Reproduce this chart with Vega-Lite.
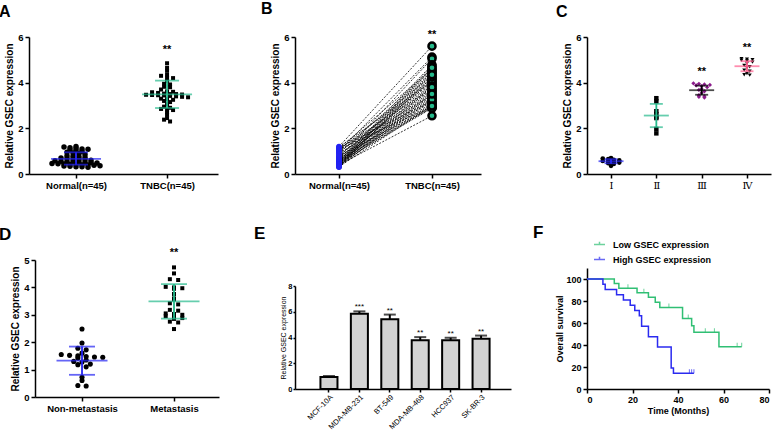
{
"$schema": "https://vega.github.io/schema/vega-lite/v6.json",
"background": "white",
"padding": {"left": -1, "top": 1, "right": 5, "bottom": 0},
"columns": 3,
"align": "none",
"bounds": "flush",
"spacing": {"column": 69, "row": 86},
"resolve": {"scale": {"color": "independent", "fill": "independent", "shape": "independent", "size": "independent"}, "legend": {"color": "independent"}},
"config": {
 "font": "Liberation Sans",
 "view": {"stroke": null},
 "axis": {"grid": false, "labelOverlap": false, "domainColor": "black", "domainWidth": 1.5, "tickColor": "black", "tickWidth": 1.5, "tickSize": 4, "labelColor": "black", "titleColor": "black", "labelFont": "Liberation Sans", "titleFont": "Liberation Sans", "labelFontWeight": "bold", "titleFontWeight": "bold", "labelFontSize": 9.5, "titleFontSize": 10, "labelPadding": 2, "titlePadding": 3},
 "title": {"anchor": "start", "frame": "group", "fontSize": 16, "fontWeight": "bold", "font": "Liberation Sans", "color": "black", "baseline": "alphabetic", "offset": 12},
 "text": {"font": "Liberation Sans", "color": "black"}
},
"concat": [
{
 "width": 189, "height": 137,
 "title": {"text": "A", "dx": -30},
 "data": {"values": [
  {"g":"Normal(n=45)","v":1.2},{"g":"Normal(n=45)","v":1.18},{"g":"Normal(n=45)","v":1.15},{"g":"Normal(n=45)","v":1.12},{"g":"Normal(n=45)","v":1.1},{"g":"Normal(n=45)","v":1.08},{"g":"Normal(n=45)","v":1.05},{"g":"Normal(n=45)","v":1.02},{"g":"Normal(n=45)","v":1.0},{"g":"Normal(n=45)","v":0.95},
  {"g":"Normal(n=45)","v":0.92},{"g":"Normal(n=45)","v":0.9},{"g":"Normal(n=45)","v":0.85},{"g":"Normal(n=45)","v":0.8},{"g":"Normal(n=45)","v":0.78},{"g":"Normal(n=45)","v":0.75},{"g":"Normal(n=45)","v":0.72},{"g":"Normal(n=45)","v":0.7},{"g":"Normal(n=45)","v":0.68},{"g":"Normal(n=45)","v":0.66},
  {"g":"Normal(n=45)","v":0.64},{"g":"Normal(n=45)","v":0.62},{"g":"Normal(n=45)","v":0.6},{"g":"Normal(n=45)","v":0.58},{"g":"Normal(n=45)","v":0.56},{"g":"Normal(n=45)","v":0.55},{"g":"Normal(n=45)","v":0.54},{"g":"Normal(n=45)","v":0.52},{"g":"Normal(n=45)","v":0.5},{"g":"Normal(n=45)","v":0.5},
  {"g":"Normal(n=45)","v":0.48},{"g":"Normal(n=45)","v":0.46},{"g":"Normal(n=45)","v":0.45},{"g":"Normal(n=45)","v":0.44},{"g":"Normal(n=45)","v":0.42},{"g":"Normal(n=45)","v":0.42},{"g":"Normal(n=45)","v":0.4},{"g":"Normal(n=45)","v":0.4},{"g":"Normal(n=45)","v":0.38},{"g":"Normal(n=45)","v":0.36},
  {"g":"Normal(n=45)","v":0.35},{"g":"Normal(n=45)","v":0.34},{"g":"Normal(n=45)","v":0.32},{"g":"Normal(n=45)","v":0.32},{"g":"Normal(n=45)","v":0.3},
  {"g":"TNBC(n=45)","v":4.85},{"g":"TNBC(n=45)","v":4.65},{"g":"TNBC(n=45)","v":4.52},{"g":"TNBC(n=45)","v":4.35},{"g":"TNBC(n=45)","v":4.3},{"g":"TNBC(n=45)","v":4.22},{"g":"TNBC(n=45)","v":4.2},{"g":"TNBC(n=45)","v":4.08},{"g":"TNBC(n=45)","v":3.95},{"g":"TNBC(n=45)","v":3.92},
  {"g":"TNBC(n=45)","v":3.82},{"g":"TNBC(n=45)","v":3.8},{"g":"TNBC(n=45)","v":3.7},{"g":"TNBC(n=45)","v":3.62},{"g":"TNBC(n=45)","v":3.6},{"g":"TNBC(n=45)","v":3.58},{"g":"TNBC(n=45)","v":3.55},{"g":"TNBC(n=45)","v":3.52},{"g":"TNBC(n=45)","v":3.5},{"g":"TNBC(n=45)","v":3.5},
  {"g":"TNBC(n=45)","v":3.48},{"g":"TNBC(n=45)","v":3.47},{"g":"TNBC(n=45)","v":3.46},{"g":"TNBC(n=45)","v":3.45},{"g":"TNBC(n=45)","v":3.44},{"g":"TNBC(n=45)","v":3.42},{"g":"TNBC(n=45)","v":3.4},{"g":"TNBC(n=45)","v":3.38},{"g":"TNBC(n=45)","v":3.36},{"g":"TNBC(n=45)","v":3.3},
  {"g":"TNBC(n=45)","v":3.28},{"g":"TNBC(n=45)","v":3.25},{"g":"TNBC(n=45)","v":3.2},{"g":"TNBC(n=45)","v":3.15},{"g":"TNBC(n=45)","v":3.05},{"g":"TNBC(n=45)","v":2.95},{"g":"TNBC(n=45)","v":2.9},{"g":"TNBC(n=45)","v":2.85},{"g":"TNBC(n=45)","v":2.82},{"g":"TNBC(n=45)","v":2.8},
  {"g":"TNBC(n=45)","v":2.7},{"g":"TNBC(n=45)","v":2.6},{"g":"TNBC(n=45)","v":2.45},{"g":"TNBC(n=45)","v":2.38},{"g":"TNBC(n=45)","v":2.3}
 ]},
 "encoding": {
  "x": {"field": "g", "type": "nominal", "scale": {"type": "point", "domain": ["Normal(n=45)", "TNBC(n=45)"], "padding": 0.538, "align": 0.48}, "axis": {"title": null, "labelAngle": 0}},
  "y": {"field": "v", "type": "quantitative", "scale": {"domain": [0, 6]}, "axis": {"values": [0, 2, 4, 6], "tickCount": 12, "format": "d", "title": "Relative GSEC expression"}}
 },
 "layer": [
  {"transform": [
    {"bin": {"step": 0.12}, "field": "v", "as": "vb"},
    {"window": [{"op": "row_number", "as": "k"}, {"op": "count", "as": "n"}], "groupby": ["g", "vb"], "sort": [{"field": "v", "order": "descending"}], "frame": [null, null]},
    {"calculate": "(datum.k - (datum.n + 1) / 2) * 6", "as": "off"}],
   "mark": {"type": "point", "filled": true, "opacity": 1, "color": "black"},
   "encoding": {
    "xOffset": {"field": "off", "type": "quantitative", "scale": null},
    "shape": {"field": "g", "type": "nominal", "scale": {"domain": ["Normal(n=45)", "TNBC(n=45)"], "range": ["circle", "square"]}, "legend": null},
    "size": {"field": "g", "type": "nominal", "scale": {"domain": ["Normal(n=45)", "TNBC(n=45)"], "range": [30, 16]}, "legend": null}
   }},
  {"data": {"values": [{"g":"Normal(n=45)","mean":0.66,"lo":0.41,"hi":0.95},{"g":"TNBC(n=45)","mean":3.49,"lo":2.89,"hi":4.09}]},
   "layer": [
    {"mark": {"type": "rule", "strokeWidth": 1.8}, "encoding": {"y": {"field": "lo", "type": "quantitative"}, "y2": {"field": "hi"}, "color": {"field": "g", "type": "nominal", "scale": {"domain": ["Normal(n=45)", "TNBC(n=45)"], "range": ["#2323f2", "#25b98b"]}, "legend": null}}},
    {"mark": {"type": "tick", "orient": "horizontal", "size": 50, "thickness": 1.8}, "encoding": {"y": {"field": "mean", "type": "quantitative"}, "color": {"field": "g", "type": "nominal", "legend": null}}},
    {"mark": {"type": "tick", "orient": "horizontal", "size": 24, "thickness": 1.8}, "encoding": {"y": {"field": "lo", "type": "quantitative"}, "color": {"field": "g", "type": "nominal", "legend": null}}},
    {"mark": {"type": "tick", "orient": "horizontal", "size": 24, "thickness": 1.8}, "encoding": {"y": {"field": "hi", "type": "quantitative"}, "color": {"field": "g", "type": "nominal", "legend": null}}}
   ]},
  {"transform": [{"filter": "datum.g == 'TNBC(n=45)'"}, {"aggregate": [{"op": "max", "field": "v", "as": "vmax"}], "groupby": ["g"]}],
   "mark": {"type": "text", "text": "**", "dy": -10, "fontSize": 11, "fontWeight": "bold", "baseline": "alphabetic"},
   "encoding": {"y": {"field": "vmax", "type": "quantitative"}}}
 ]
},
{
 "width": 208, "height": 137,
 "title": {"text": "B", "dx": -34},
 "data": {"values": [
  {"p":0,"n":1.2,"t":5.6},{"p":1,"n":1.18,"t":4.05},{"p":2,"n":1.15,"t":3.2},{"p":3,"n":1.12,"t":4.6},{"p":4,"n":1.1,"t":3.75},{"p":5,"n":1.08,"t":2.95},{"p":6,"n":1.05,"t":4.3},{"p":7,"n":1.02,"t":3.45},{"p":8,"n":1.0,"t":5.12},{"p":9,"n":0.95,"t":4.0},
  {"p":10,"n":0.92,"t":3.15},{"p":11,"n":0.9,"t":4.55},{"p":12,"n":0.85,"t":3.7},{"p":13,"n":0.8,"t":2.92},{"p":14,"n":0.78,"t":4.2},{"p":15,"n":0.75,"t":3.4},{"p":16,"n":0.72,"t":5.05},{"p":17,"n":0.7,"t":3.95},{"p":18,"n":0.68,"t":3.1},{"p":19,"n":0.66,"t":4.5},
  {"p":20,"n":0.64,"t":3.65},{"p":21,"n":0.62,"t":2.9},{"p":22,"n":0.6,"t":4.15},{"p":23,"n":0.58,"t":3.35},{"p":24,"n":0.56,"t":4.78},{"p":25,"n":0.55,"t":3.9},{"p":26,"n":0.54,"t":3.05},{"p":27,"n":0.52,"t":4.45},{"p":28,"n":0.5,"t":3.6},{"p":29,"n":0.5,"t":2.88},
  {"p":30,"n":0.48,"t":4.1},{"p":31,"n":0.46,"t":3.3},{"p":32,"n":0.45,"t":4.72},{"p":33,"n":0.44,"t":3.85},{"p":34,"n":0.42,"t":3.0},{"p":35,"n":0.42,"t":4.4},{"p":36,"n":0.4,"t":3.55},{"p":37,"n":0.4,"t":2.55},{"p":38,"n":0.38,"t":4.25},{"p":39,"n":0.36,"t":3.25},
  {"p":40,"n":0.35,"t":4.65},{"p":41,"n":0.34,"t":3.8},{"p":42,"n":0.32,"t":2.98},{"p":43,"n":0.32,"t":4.35},{"p":44,"n":0.3,"t":3.5}
 ]},
 "transform": [{"fold": ["n", "t"], "as": ["g", "v"]}],
 "encoding": {
  "x": {"field": "g", "type": "nominal", "scale": {"type": "point", "domain": ["n", "t"], "range": [0, 186], "padding": 0.5, "align": 0.473}, "axis": {"title": null, "labelAngle": 0, "labelExpr": "datum.value == 'n' ? 'Normal(n=45)' : 'TNBC(n=45)'"}},
  "y": {"field": "v", "type": "quantitative", "scale": {"domain": [0, 6]}, "axis": {"values": [0, 2, 4, 6], "tickCount": 12, "format": "d", "title": "Relative GSEC expression"}}
 },
 "layer": [
  {"mark": {"type": "line", "color": "black", "strokeWidth": 0.8, "strokeDash": [2, 1.5]}, "encoding": {"detail": {"field": "p", "type": "nominal"}}},
  {"transform": [{"filter": "datum.g == 'n'"}], "mark": {"type": "circle", "color": "#2323f2", "size": 30, "opacity": 1}},
  {"transform": [{"filter": "datum.g == 't'"}], "mark": {"type": "circle", "fill": "#25b98b", "stroke": "black", "strokeWidth": 2.5, "size": 50, "opacity": 1}},
  {"transform": [{"filter": "datum.g == 't'"}, {"aggregate": [{"op": "max", "field": "v", "as": "vmax"}], "groupby": ["g"]}],
   "mark": {"type": "text", "text": "**", "dy": -8, "fontSize": 11, "fontWeight": "bold", "baseline": "alphabetic"},
   "encoding": {"y": {"field": "vmax", "type": "quantitative"}}}
 ]
},
{
 "width": 184, "height": 137,
 "title": {"text": "C", "dx": -31},
 "data": {"values": [
  {"g":"Ⅰ","v":0.7},{"g":"Ⅰ","v":0.68},{"g":"Ⅰ","v":0.65},{"g":"Ⅰ","v":0.62},{"g":"Ⅰ","v":0.6},{"g":"Ⅰ","v":0.57},{"g":"Ⅰ","v":0.55},{"g":"Ⅰ","v":0.52},{"g":"Ⅰ","v":0.5},{"g":"Ⅰ","v":0.47},{"g":"Ⅰ","v":0.44},{"g":"Ⅰ","v":0.36},
  {"g":"Ⅱ","v":3.32},{"g":"Ⅱ","v":3.18},{"g":"Ⅱ","v":2.75},{"g":"Ⅱ","v":2.62},{"g":"Ⅱ","v":2.5},{"g":"Ⅱ","v":2.45},{"g":"Ⅱ","v":1.97},{"g":"Ⅱ","v":1.78},
  {"g":"Ⅲ","v":3.97},{"g":"Ⅲ","v":3.95},{"g":"Ⅲ","v":3.92},{"g":"Ⅲ","v":3.9},{"g":"Ⅲ","v":3.88},{"g":"Ⅲ","v":3.85},{"g":"Ⅲ","v":3.8},{"g":"Ⅲ","v":3.72},{"g":"Ⅲ","v":3.68},{"g":"Ⅲ","v":3.62},{"g":"Ⅲ","v":3.55},{"g":"Ⅲ","v":3.45},{"g":"Ⅲ","v":3.4},{"g":"Ⅲ","v":3.38},{"g":"Ⅲ","v":3.35},
  {"g":"Ⅳ","v":5.05},{"g":"Ⅳ","v":5.03},{"g":"Ⅳ","v":5.0},{"g":"Ⅳ","v":4.98},{"g":"Ⅳ","v":4.95},{"g":"Ⅳ","v":4.9},{"g":"Ⅳ","v":4.85},{"g":"Ⅳ","v":4.75},{"g":"Ⅳ","v":4.7},{"g":"Ⅳ","v":4.65},{"g":"Ⅳ","v":4.55},{"g":"Ⅳ","v":4.5},{"g":"Ⅳ","v":4.4},{"g":"Ⅳ","v":4.35},{"g":"Ⅳ","v":4.33}
 ]},
 "encoding": {
  "x": {"field": "g", "type": "nominal", "scale": {"type": "point", "domain": ["Ⅰ", "Ⅱ", "Ⅲ", "Ⅳ"], "padding": 0.53, "align": 0.5}, "axis": {"title": null, "labelAngle": 0, "labelFont": "DejaVu Serif", "labelFontWeight": "normal", "labelFontSize": 10}},
  "y": {"field": "v", "type": "quantitative", "scale": {"domain": [0, 6]}, "axis": {"values": [0, 2, 4, 6], "tickCount": 12, "format": "d", "title": "Relative GSEC expression"}}
 },
 "layer": [
  {"transform": [
    {"bin": {"step": 0.1}, "field": "v", "as": "vb"},
    {"window": [{"op": "row_number", "as": "k"}, {"op": "count", "as": "n"}], "groupby": ["g", "vb"], "sort": [{"field": "v", "order": "descending"}], "frame": [null, null]},
    {"calculate": "(datum.k - (datum.n + 1) / 2) * 5.5", "as": "off"}],
   "mark": {"type": "point", "filled": true, "opacity": 1},
   "encoding": {
    "xOffset": {"field": "off", "type": "quantitative", "scale": null},
    "fill": {"field": "g", "type": "nominal", "scale": {"domain": ["Ⅰ", "Ⅱ", "Ⅲ", "Ⅳ"], "range": ["black", "black", "#8c1c8c", "black"]}, "legend": null},
    "shape": {"field": "g", "type": "nominal", "scale": {"domain": ["Ⅰ", "Ⅱ", "Ⅲ", "Ⅳ"], "range": ["circle", "square", "diamond", "triangle-down"]}, "legend": null},
    "size": {"field": "g", "type": "nominal", "scale": {"domain": ["Ⅰ", "Ⅱ", "Ⅲ", "Ⅳ"], "range": [22, 16, 40, 32]}, "legend": null}
   }},
  {"data": {"values": [{"g":"Ⅰ","mean":0.56,"lo":0.47,"hi":0.65},{"g":"Ⅱ","mean":2.56,"lo":2.05,"hi":3.07},{"g":"Ⅲ","mean":3.67,"lo":3.47,"hi":3.87},{"g":"Ⅳ","mean":4.72,"lo":4.5,"hi":4.94}]},
   "layer": [
    {"mark": {"type": "rule", "strokeWidth": 1.8}, "encoding": {"y": {"field": "lo", "type": "quantitative"}, "y2": {"field": "hi"}, "color": {"field": "g", "type": "nominal", "scale": {"domain": ["Ⅰ", "Ⅱ", "Ⅲ", "Ⅳ"], "range": ["#2323f2", "#25b98b", "black", "#ff5c8d"]}, "legend": null}}},
    {"mark": {"type": "tick", "orient": "horizontal", "size": 25, "thickness": 1.8}, "encoding": {"y": {"field": "mean", "type": "quantitative"}, "color": {"field": "g", "type": "nominal", "legend": null}}},
    {"mark": {"type": "tick", "orient": "horizontal", "size": 13, "thickness": 1.8}, "encoding": {"y": {"field": "lo", "type": "quantitative"}, "color": {"field": "g", "type": "nominal", "legend": null}}},
    {"mark": {"type": "tick", "orient": "horizontal", "size": 13, "thickness": 1.8}, "encoding": {"y": {"field": "hi", "type": "quantitative"}, "color": {"field": "g", "type": "nominal", "legend": null}}}
   ]},
  {"transform": [{"filter": "datum.g == 'Ⅲ' || datum.g == 'Ⅳ'"}, {"aggregate": [{"op": "max", "field": "v", "as": "vmax"}], "groupby": ["g"]}],
   "mark": {"type": "text", "text": "**", "dy": -8, "fontSize": 11, "fontWeight": "bold", "baseline": "alphabetic"},
   "encoding": {"y": {"field": "vmax", "type": "quantitative"}}}
 ]
},
{
 "width": 197, "height": 137,
 "title": {"text": "D", "dx": -30, "offset": 3, "fontSize": 17},
 "data": {"values": [
  {"g":"Non-metastasis","v":2.48},{"g":"Non-metastasis","v":1.97},{"g":"Non-metastasis","v":1.78},{"g":"Non-metastasis","v":1.72},{"g":"Non-metastasis","v":1.6},{"g":"Non-metastasis","v":1.55},{"g":"Non-metastasis","v":1.52},{"g":"Non-metastasis","v":1.5},{"g":"Non-metastasis","v":1.48},{"g":"Non-metastasis","v":1.46},{"g":"Non-metastasis","v":1.45},
  {"g":"Non-metastasis","v":1.42},{"g":"Non-metastasis","v":1.35},{"g":"Non-metastasis","v":1.3},{"g":"Non-metastasis","v":1.28},{"g":"Non-metastasis","v":1.2},{"g":"Non-metastasis","v":1.18},{"g":"Non-metastasis","v":1.1},{"g":"Non-metastasis","v":0.72},{"g":"Non-metastasis","v":0.6},{"g":"Non-metastasis","v":0.42},{"g":"Non-metastasis","v":0.4},
  {"g":"Metastasis","v":4.73},{"g":"Metastasis","v":4.51},{"g":"Metastasis","v":4.3},{"g":"Metastasis","v":4.27},{"g":"Metastasis","v":4.02},{"g":"Metastasis","v":4.0},{"g":"Metastasis","v":3.97},{"g":"Metastasis","v":3.95},{"g":"Metastasis","v":3.76},{"g":"Metastasis","v":3.6},{"g":"Metastasis","v":3.56},{"g":"Metastasis","v":3.42},
  {"g":"Metastasis","v":3.38},{"g":"Metastasis","v":3.18},{"g":"Metastasis","v":3.15},{"g":"Metastasis","v":3.05},{"g":"Metastasis","v":3.03},{"g":"Metastasis","v":3.0},{"g":"Metastasis","v":2.95},{"g":"Metastasis","v":2.92},{"g":"Metastasis","v":2.88},{"g":"Metastasis","v":2.85},{"g":"Metastasis","v":2.75},{"g":"Metastasis","v":2.72},{"g":"Metastasis","v":2.48}
 ]},
 "encoding": {
  "x": {"field": "g", "type": "nominal", "scale": {"type": "point", "domain": ["Non-metastasis", "Metastasis"], "range": [6, 190], "padding": 0.5, "align": 0.511}, "axis": {"title": null, "labelAngle": 0}},
  "y": {"field": "v", "type": "quantitative", "scale": {"domain": [0, 5]}, "axis": {"values": [0, 1, 2, 3, 4, 5], "tickCount": 12, "format": "d", "title": "Relative GSEC expression", "offset": -6}}
 },
 "layer": [
  {"transform": [
    {"bin": {"step": 0.12}, "field": "v", "as": "vb"},
    {"window": [{"op": "row_number", "as": "k"}, {"op": "count", "as": "n"}], "groupby": ["g", "vb"], "sort": [{"field": "v", "order": "descending"}], "frame": [null, null]},
    {"calculate": "(datum.k - (datum.n + 1) / 2) * 8.3", "as": "off"}],
   "mark": {"type": "point", "filled": true, "opacity": 1, "color": "black"},
   "encoding": {
    "xOffset": {"field": "off", "type": "quantitative", "scale": null},
    "shape": {"field": "g", "type": "nominal", "scale": {"domain": ["Non-metastasis", "Metastasis"], "range": ["circle", "square"]}, "legend": null},
    "size": {"field": "g", "type": "nominal", "scale": {"domain": ["Non-metastasis", "Metastasis"], "range": [26, 16]}, "legend": null}
   }},
  {"data": {"values": [{"g":"Non-metastasis","mean":1.33,"lo":0.81,"hi":1.84},{"g":"Metastasis","mean":3.49,"lo":2.86,"hi":4.12}]},
   "layer": [
    {"mark": {"type": "rule", "strokeWidth": 1.8}, "encoding": {"y": {"field": "lo", "type": "quantitative"}, "y2": {"field": "hi"}, "color": {"field": "g", "type": "nominal", "scale": {"domain": ["Non-metastasis", "Metastasis"], "range": ["#2323f2", "#25b98b"]}, "legend": null}}},
    {"mark": {"type": "tick", "orient": "horizontal", "size": 51, "thickness": 1.8}, "encoding": {"y": {"field": "mean", "type": "quantitative"}, "color": {"field": "g", "type": "nominal", "legend": null}}},
    {"mark": {"type": "tick", "orient": "horizontal", "size": 26, "thickness": 1.8}, "encoding": {"y": {"field": "lo", "type": "quantitative"}, "color": {"field": "g", "type": "nominal", "legend": null}}},
    {"mark": {"type": "tick", "orient": "horizontal", "size": 26, "thickness": 1.8}, "encoding": {"y": {"field": "hi", "type": "quantitative"}, "color": {"field": "g", "type": "nominal", "legend": null}}}
   ]},
  {"transform": [{"filter": "datum.g == 'Metastasis'"}, {"aggregate": [{"op": "max", "field": "v", "as": "vmax"}], "groupby": ["g"]}],
   "mark": {"type": "text", "text": "**", "dy": -11, "fontSize": 11, "fontWeight": "bold", "baseline": "alphabetic"},
   "encoding": {"y": {"field": "vmax", "type": "quantitative"}}}
 ]
},
{
 "width": 223, "height": 137,
 "title": {"text": "E", "dx": -41, "offset": 17, "fontSize": 17},
 "data": {"values": [
  {"c":"MCF-10A","v":0.93,"hi":1.01,"s":""},
  {"c":"MDA-MB-231","v":5.85,"hi":6.03,"s":"***"},
  {"c":"BT-549","v":5.42,"hi":5.78,"s":"**"},
  {"c":"MDA-MB-468","v":3.78,"hi":4.03,"s":"**"},
  {"c":"HCC937","v":3.78,"hi":3.98,"s":"**"},
  {"c":"SK-BR-3","v":3.9,"hi":4.15,"s":"**"}
 ]},
 "encoding": {
  "x": {"field": "c", "type": "nominal", "sort": null, "scale": {"type": "band", "range": [0, 216], "paddingInner": 0.44, "paddingOuter": 0.77, "align": 0.543}, "axis": {"title": null, "labelAngle": -45, "labelFontSize": 7.5, "labelFontWeight": "normal", "offset": -8, "tickSize": 3, "labelPadding": 1}}
 },
 "layer": [
  {"mark": {"type": "bar", "fill": "#d3d3d3", "stroke": "black", "strokeWidth": 2},
   "encoding": {"y": {"field": "v", "type": "quantitative", "scale": {"domain": [0, 8], "range": [129, 26]}, "axis": {"values": [0, 2, 4, 6, 8], "tickCount": 12, "format": "d", "labelOverlap": false, "title": "Relative GSEC expression", "titleFontSize": 7, "titleFontWeight": "normal", "labelFontSize": 7.5, "tickSize": 2, "labelPadding": 1, "titlePadding": 1}}}},
  {"mark": {"type": "rule", "strokeWidth": 2, "color": "black"}, "encoding": {"y": {"field": "v", "type": "quantitative"}, "y2": {"field": "hi"}}},
  {"mark": {"type": "tick", "orient": "horizontal", "size": 12, "thickness": 2, "color": "black"}, "encoding": {"y": {"field": "hi", "type": "quantitative"}}},
  {"mark": {"type": "text", "dy": -2, "fontSize": 8, "baseline": "alphabetic"}, "encoding": {"y": {"field": "hi", "type": "quantitative"}, "text": {"field": "s"}}}
 ]
},
{
 "width": 182, "height": 137,
 "title": {"text": "F", "dx": -54, "offset": -4, "fontSize": 17},
 "layer": [
  {"data": {"values": [
    {"grp":"Low GSEC expression","t":0,"s":100},{"grp":"Low GSEC expression","t":12,"s":95.8},{"grp":"Low GSEC expression","t":14,"s":91.7},{"grp":"Low GSEC expression","t":22,"s":87.5},{"grp":"Low GSEC expression","t":27,"s":83.3},{"grp":"Low GSEC expression","t":30,"s":78.9},{"grp":"Low GSEC expression","t":32,"s":74},{"grp":"Low GSEC expression","t":42,"s":64},{"grp":"Low GSEC expression","t":46,"s":57.6},{"grp":"Low GSEC expression","t":47,"s":51.5},{"grp":"Low GSEC expression","t":58,"s":38.4},{"grp":"Low GSEC expression","t":68,"s":38.4},
    {"grp":"High GSEC expression","t":0,"s":100},{"grp":"High GSEC expression","t":7,"s":95.2},{"grp":"High GSEC expression","t":8,"s":90.5},{"grp":"High GSEC expression","t":13,"s":85.7},{"grp":"High GSEC expression","t":16,"s":81},{"grp":"High GSEC expression","t":19,"s":76.2},{"grp":"High GSEC expression","t":21,"s":71.4},{"grp":"High GSEC expression","t":23,"s":66.7},{"grp":"High GSEC expression","t":24,"s":57.1},{"grp":"High GSEC expression","t":27,"s":47.6},{"grp":"High GSEC expression","t":31,"s":38.1},{"grp":"High GSEC expression","t":37,"s":19},{"grp":"High GSEC expression","t":38,"s":14.3},{"grp":"High GSEC expression","t":47,"s":14.3}
   ]},
   "mark": {"type": "line", "interpolate": "step-after", "strokeWidth": 1.5},
   "encoding": {
    "x": {"field": "t", "type": "quantitative", "scale": {"domain": [0, 80]}, "axis": {"values": [0, 20, 40, 60, 80], "tickCount": 12, "format": "d", "title": "Time (Months)", "offset": -8, "labelFontSize": 9, "titleFontSize": 9, "titlePadding": 2}},
    "y": {"field": "s", "type": "quantitative", "scale": {"domain": [0, 110], "range": [129, 8]}, "axis": {"values": [0, 20, 40, 60, 80, 100], "tickCount": 12, "format": "d", "labelOverlap": false, "title": "Overall survival", "labelFontSize": 9, "titleFontSize": 9, "titlePadding": 1}},
    "color": {"field": "grp", "type": "nominal", "sort": null, "scale": {"domain": ["Low GSEC expression", "High GSEC expression"], "range": ["#30bf74", "#2b2bf0"]},
     "legend": {"title": null, "orient": "none", "legendX": 6, "legendY": -22, "symbolType": "M-1,0L1,0M0,0L0,-0.5", "symbolSize": 121, "symbolStrokeWidth": 1.5, "labelFontSize": 9, "labelFontWeight": "bold", "labelColor": "black", "labelFont": "Liberation Sans", "labelOffset": 7, "rowPadding": 3, "padding": 0}}
   }},
  {"data": {"values": [
    {"grp":"Low GSEC expression","t":18,"s":91.7},{"grp":"Low GSEC expression","t":25,"s":87.5},{"grp":"Low GSEC expression","t":36,"s":74},{"grp":"Low GSEC expression","t":44.5,"s":64},{"grp":"Low GSEC expression","t":52,"s":51.5},{"grp":"Low GSEC expression","t":56,"s":51.5},{"grp":"Low GSEC expression","t":66,"s":38.4},{"grp":"Low GSEC expression","t":68,"s":38.4},
    {"grp":"High GSEC expression","t":45,"s":14.3},{"grp":"High GSEC expression","t":46,"s":14.3},{"grp":"High GSEC expression","t":47,"s":14.3}
   ]},
   "mark": {"type": "tick", "orient": "vertical", "size": 4, "thickness": 1, "yOffset": -2},
   "encoding": {"x": {"field": "t", "type": "quantitative"}, "y": {"field": "s", "type": "quantitative"}, "color": {"field": "grp", "type": "nominal"}}},
  {"mark": {"type": "text", "text": "p", "fontStyle": "italic", "fontSize": 9.5, "align": "left"},
   "encoding": {"x": {"datum": 2, "type": "quantitative"}, "y": {"datum": 11, "type": "quantitative"}}},
  {"mark": {"type": "text", "text": "<0.01", "fontSize": 9.5, "align": "left", "dx": 5.5},
   "encoding": {"x": {"datum": 2, "type": "quantitative"}, "y": {"datum": 11, "type": "quantitative"}}}
 ]
}
]
}
